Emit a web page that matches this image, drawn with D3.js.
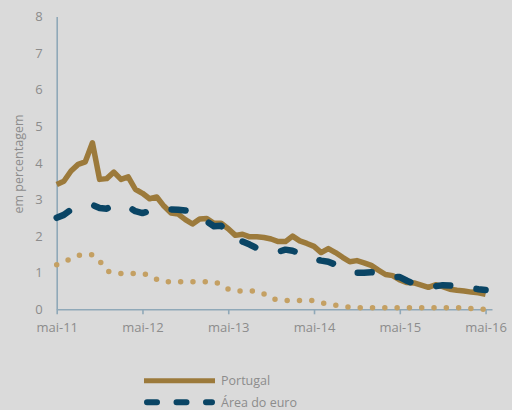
<!DOCTYPE html>
<html>
<head>
<meta charset="utf-8">
<script src="https://cdn.jsdelivr.net/npm/d3@7"></script>
<style>
  body { margin: 0; background: #dadada; }
  text { font-family: "Open Sans", sans-serif; fill: #8c8c8c; }
</style>
</head>
<body>
<div id="chart"></div>
<script>
// monthly values, mai-11 .. mai-16
var portugal = [3.41, 3.5, 3.78, 3.96, 4.03, 4.55, 3.55, 3.57, 3.75, 3.55,
  3.62, 3.28, 3.17, 3.02, 3.07, 2.82, 2.63, 2.6, 2.45, 2.33,
  2.47, 2.48, 2.35, 2.35, 2.2, 2.02, 2.05, 1.98, 1.98, 1.96,
  1.92, 1.85, 1.85, 2.0, 1.87, 1.8, 1.72, 1.55, 1.66, 1.55,
  1.42, 1.3, 1.33, 1.27, 1.2, 1.07, 0.95, 0.92, 0.8, 0.73,
  0.72, 0.66, 0.6, 0.67, 0.62, 0.55, 0.52, 0.5, 0.47, 0.45, 0.41];
var euro = [2.5, 2.58, 2.72, 2.78, 2.82, 2.85, 2.77, 2.75, 2.85, 2.82,
  2.8, 2.68, 2.63, 2.68, 2.72, 2.77, 2.73, 2.72, 2.7, 2.65,
  2.52, 2.4, 2.27, 2.28, 2.12, 1.92, 1.85, 1.77, 1.67, 1.6,
  1.58, 1.57, 1.63, 1.6, 1.53, 1.45, 1.37, 1.33, 1.3, 1.22,
  1.12, 1.05, 1.0, 1.0, 1.01, 1.0, 0.93, 0.88, 0.88, 0.78,
  0.7, 0.66, 0.63, 0.63, 0.66, 0.65, 0.64, 0.62, 0.58, 0.55, 0.53];
var third = [1.22, 1.3, 1.38, 1.47, 1.5, 1.49, 1.32, 1.05, 1.0, 0.98,
  0.98, 0.98, 0.98, 0.93, 0.82, 0.75, 0.75, 0.75, 0.75, 0.75,
  0.75, 0.75, 0.75, 0.68, 0.55, 0.5, 0.5, 0.5, 0.5, 0.42,
  0.3, 0.25, 0.24, 0.24, 0.24, 0.24, 0.24, 0.18, 0.14, 0.11,
  0.09, 0.05, 0.04, 0.04, 0.04, 0.04, 0.04, 0.04, 0.04, 0.04,
  0.04, 0.04, 0.04, 0.04, 0.04, 0.04, 0.04, 0.04, 0.02, 0.0, 0.0];
var tickMonths = [0, 12, 24, 36, 48, 60];
var tickLabels = ["mai-11", "mai-12", "mai-13", "mai-14", "mai-15", "mai-16"];
var yTicks = [0, 1, 2, 3, 4, 5, 6, 7, 8];

var width = 512, height = 410;
var svg = d3.select("#chart").append("svg")
    .attr("width", width)
    .attr("height", height);

svg.append("rect").attr("width", width).attr("height", height).attr("fill", "#dadada");

var x = d3.scaleLinear().domain([0, 60.9]).range([56.7, 492]);
var y = d3.scaleLinear().domain([0, 8]).range([309.3, 16.5]);

// x axis
var xAxis = svg.append("g")
    .attr("transform", "translate(0," + y(0) + ")")
    .call(d3.axisBottom(x).tickValues(tickMonths).tickSize(5).tickSizeOuter(0)
        .tickFormat(function(d, i) { return tickLabels[i]; }));
xAxis.select(".domain").attr("stroke", "#8fa8b8").attr("stroke-width", 1.6);
xAxis.selectAll(".tick line").attr("stroke", "#8fa8b8").attr("stroke-width", 1.6);
xAxis.selectAll(".tick text").attr("font-size", "13px").attr("dy", "1.1em")
    .attr("fill", "#8c8c8c").style("font-family", "'Open Sans', sans-serif");

// y axis
var yAxis = svg.append("g")
    .attr("transform", "translate(" + x(0) + ",0)")
    .call(d3.axisLeft(y).tickValues(yTicks).tickSize(0).tickPadding(14));
yAxis.select(".domain").attr("stroke", "#8fa8b8").attr("stroke-width", 1.6);
yAxis.selectAll(".tick text").attr("font-size", "13px")
    .attr("fill", "#8c8c8c").style("font-family", "'Open Sans', sans-serif");

svg.append("text")
    .attr("transform", "translate(23,164) rotate(-90)")
    .attr("text-anchor", "middle")
    .attr("font-size", "12.5px")
    .text("em percentagem");

var line = d3.line()
    .x(function(d, i) { return x(i); })
    .y(function(d) { return y(d); });

svg.append("path").datum(third)
    .attr("d", line)
    .attr("fill", "none")
    .attr("stroke", "#c4a063")
    .attr("stroke-width", 5.5)
    .attr("stroke-linecap", "round")
    .attr("stroke-dasharray", "0,12.3");

svg.append("path").datum(portugal)
    .attr("d", line)
    .attr("fill", "none")
    .attr("stroke", "#9c7a3b")
    .attr("stroke-width", 5.5)
    .attr("stroke-linejoin", "round");

svg.append("path").datum(euro)
    .attr("d", line)
    .attr("fill", "none")
    .attr("stroke", "#0a4565")
    .attr("stroke-width", 6.5)
    .attr("stroke-linecap", "round")
    .attr("stroke-linejoin", "round")
    .attr("stroke-dasharray", "14,26.5");

// legend
var legend = svg.append("g");
legend.append("line")
    .attr("x1", 144).attr("x2", 215).attr("y1", 380.7).attr("y2", 380.7)
    .attr("stroke", "#9c7a3b").attr("stroke-width", 5);
legend.append("text")
    .attr("x", 221).attr("y", 381).attr("dy", "0.35em")
    .attr("font-size", "12.5px").text("Portugal");
legend.append("line")
    .attr("x1", 147).attr("x2", 212).attr("y1", 402.3).attr("y2", 402.3)
    .attr("stroke", "#0a4565").attr("stroke-width", 6)
    .attr("stroke-linecap", "round")
    .attr("stroke-dasharray", "10,19.5");
legend.append("text")
    .attr("x", 221).attr("y", 402.5).attr("dy", "0.35em")
    .attr("font-size", "12.5px").text("Área do euro");
</script>
</body>
</html>
